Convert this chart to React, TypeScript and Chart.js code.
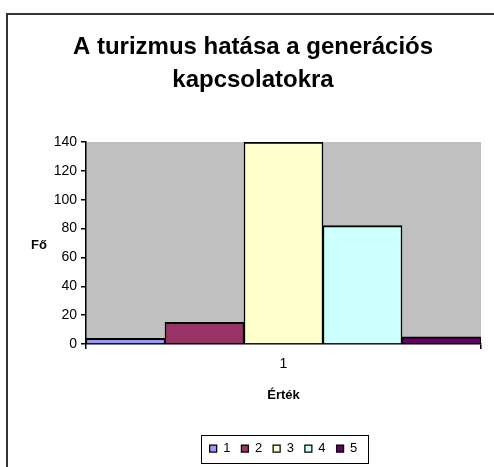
import React, { useEffect, useRef } from 'react';
import { Chart, registerables } from 'chart.js';

Chart.register(...registerables);

const categories = ['1'];
const seriesLabels = ['1', '2', '3', '4', '5'];
const series1 = [4];
const series2 = [15];
const series3 = [140];
const series4 = [82];
const series5 = [5];
const seriesColors = ['#9999FF', '#993366', '#FFFFCC', '#CCFFFF', '#660066'];
const yMin = 0;
const yMax = 140;
const yStep = 20;
const titleLines = ['A turizmus hatása a generációs', 'kapcsolatokra'];
const yTitle = 'Fő';
const xTitle = 'Érték';

const FONT = '"Liberation Sans", Arial, Helvetica, sans-serif';

const decorPlugin = {
  id: 'decor',
  beforeDraw(chart: any) {
    const { ctx, chartArea } = chart;
    ctx.save();
    ctx.fillStyle = '#C0C0C0';
    ctx.fillRect(chartArea.left, chartArea.top, chartArea.right - chartArea.left, chartArea.bottom - chartArea.top);
    ctx.restore();
  },
  afterDraw(chart: any) {
    const { ctx, chartArea } = chart;
    ctx.save();
    // outer frame
    ctx.strokeStyle = '#333';
    ctx.lineWidth = 2;
    ctx.beginPath();
    ctx.moveTo(7, 600);
    ctx.lineTo(7, 14);
    ctx.lineTo(600, 14);
    ctx.stroke();
    // y axis title (horizontal)
    ctx.fillStyle = '#000';
    ctx.font = `bold 13px ${FONT}`;
    ctx.textAlign = 'center';
    ctx.textBaseline = 'middle';
    ctx.fillText(yTitle, 39, (chartArea.top + chartArea.bottom) / 2 + 2);
    // legend frame
    const lg = chart.legend;
    if (lg && lg.legendHitBoxes && lg.legendHitBoxes.length) {
      const hb = lg.legendHitBoxes;
      let l = Infinity, r = -Infinity, t = Infinity, b = -Infinity;
      hb.forEach((h: any) => {
        l = Math.min(l, h.left);
        r = Math.max(r, h.left + h.width);
        t = Math.min(t, h.top);
        b = Math.max(b, h.top + h.height);
      });
      const cy = (t + b) / 2;
      ctx.strokeStyle = '#000';
      ctx.lineWidth = 1;
      ctx.strokeRect(Math.round(l - 9) + 0.5, Math.round(cy - 14) + 0.5, Math.round(r - l + 19), 28);
    }
    ctx.restore();
  },
};

export default function App() {
  const ref = useRef<HTMLCanvasElement | null>(null);
  useEffect(() => {
    if (!ref.current) return;
    Chart.defaults.font.family = FONT;
    const data = [series1, series2, series3, series4, series5];
    const chart = new Chart(ref.current, {
      type: 'bar',
      data: {
        labels: categories,
        datasets: seriesLabels.map((lab, i) => ({
          label: lab,
          data: data[i],
          backgroundColor: seriesColors[i],
          borderColor: '#000',
          borderWidth: { top: 2, left: 1.5, right: 1.5, bottom: 0 },
          borderSkipped: 'start',
          categoryPercentage: 1,
          barPercentage: 1,
        })),
      },
      options: {
        animation: false,
        responsive: false,
        maintainAspectRatio: false,
        events: [],
        layout: { padding: { top: 0, left: 25, right: 13, bottom: 2 } },
        plugins: {
          tooltip: { enabled: false },
          title: {
            display: true,
            text: titleLines,
            color: '#000',
            font: { size: 24, weight: 'bold', family: FONT, lineHeight: 1.375 },
            padding: { top: 31, bottom: 45 },
          },
          legend: {
            display: true,
            position: 'bottom',
            fullSize: false,
            labels: {
              color: '#000',
              boxWidth: 7,
              boxHeight: 7,
              padding: 11,
              font: { size: 13, family: FONT },
            },
          },
        },
        scales: {
          x: {
            ticks: { color: '#000', font: { size: 14, family: FONT }, padding: 7 },
            grid: { drawOnChartArea: false, drawTicks: true, tickLength: 5, color: '#000', offset: true, lineWidth: 1.5 },
            border: { display: true, color: '#000', width: 1.5 },
            title: {
              display: true,
              text: xTitle,
              color: '#000',
              font: { size: 13, weight: 'bold', family: FONT },
              padding: { top: 0, bottom: 28 },
            },
            afterFit: (s: any) => { s.height = 87; },
          },
          y: {
            min: yMin,
            max: yMax,
            ticks: { stepSize: yStep, color: '#000', font: { size: 14, family: FONT }, padding: 4 },
            grid: { drawOnChartArea: false, drawTicks: true, tickLength: 5, color: '#000', lineWidth: 1.5 },
            border: { display: true, color: '#000', width: 1.5 },
            afterFit: (s: any) => { s.width = 61; },
          },
        },
      },
      plugins: [decorPlugin],
    } as any);
    return () => chart.destroy();
  }, []);
  return (
    <div style={{ position: 'fixed', left: 0, top: 0, width: 494, height: 467, background: '#fff' }}>
      <canvas ref={ref} width={494} height={467} style={{ width: 494, height: 467, display: 'block' }} />
    </div>
  );
}
